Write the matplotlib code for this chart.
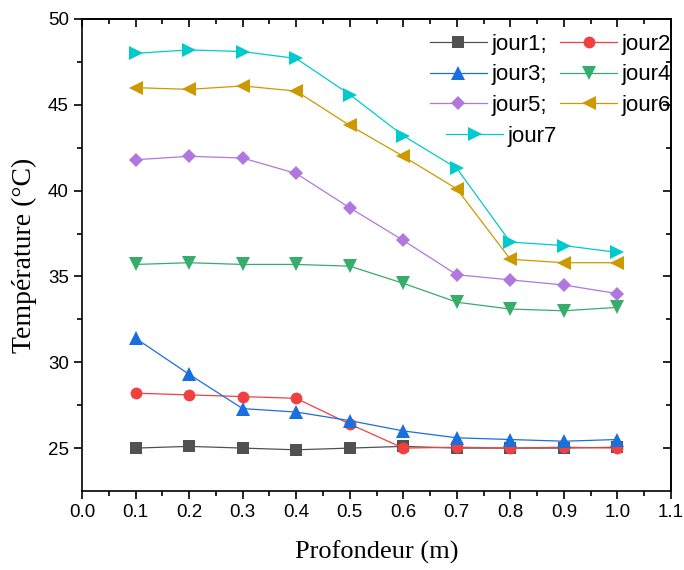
import matplotlib
matplotlib.use("Agg")
import matplotlib.pyplot as plt

depth = [0.1, 0.2, 0.3, 0.4, 0.5, 0.6, 0.7, 0.8, 0.9, 1.0]
jour1 = [25.0, 25.1, 25.0, 24.9, 25.0, 25.1, 25.0, 25.0, 25.0, 25.05]
jour2 = [28.2, 28.1, 28.0, 27.9, 26.4, 25.0, 25.05, 25.0, 25.05, 25.0]
jour3 = [31.4, 29.3, 27.3, 27.1, 26.6, 26.0, 25.6, 25.5, 25.4, 25.5]
jour4 = [35.7, 35.8, 35.7, 35.7, 35.6, 34.6, 33.5, 33.1, 33.0, 33.2]
jour5 = [41.8, 42.0, 41.9, 41.0, 39.0, 37.1, 35.1, 34.8, 34.5, 34.0]
jour6 = [46.0, 45.9, 46.1, 45.8, 43.8, 42.0, 40.1, 36.0, 35.8, 35.8]
jour7 = [48.0, 48.2, 48.1, 47.7, 45.6, 43.2, 41.3, 37.0, 36.8, 36.4]

series = [jour1, jour2, jour3, jour4, jour5, jour6, jour7]
labels = ["jour1;", "jour2", "jour3;", "jour4", "jour5;", "jour6", "jour7"]
colors = ["#515151", "#F14040", "#1A6FDF", "#37AD6B", "#B177DE", "#CC9900", "#00CBCC"]
markers = ["s", "o", "^", "v", "D", "<", ">"]
msizes = [8, 8.5, 9.5, 9.5, 7.5, 9.5, 9.5]

fig = plt.figure(figsize=(6.84, 5.70), dpi=100)
ax = fig.add_axes([82/684, 1-491/570, (671-82)/684, (491-19)/570])

handles = []
for y, lab, c, m, ms in zip(series, labels, colors, markers, msizes):
    h, = ax.plot(depth, y, color=c, marker=m, markersize=ms, linewidth=0.9,
                 markeredgewidth=0, label=lab)
    handles.append(h)

xmaj = [i/10 for i in range(12)]
xmin = [i/20 for i in range(23)]
ymaj = [25, 30, 35, 40, 45, 50]
ymin = [25, 27.5, 30, 32.5, 35, 37.5, 40, 42.5, 45, 47.5, 50]

ax.set_xlim(0.0, 1.1)
ax.set_ylim(22.5, 50)
ax.set_xticks(xmaj)
ax.set_xticklabels([f"{v:.1f}" for v in xmaj])
ax.set_xticks(xmin, minor=True)
ax.set_yticks(ymaj)
ax.set_yticks(ymin, minor=True)

tickfont = "Liberation Sans"
for lbl in ax.get_xticklabels() + ax.get_yticklabels():
    lbl.set_fontfamily(tickfont)
    lbl.set_fontsize(13.5)
ax.tick_params(which="both", direction="out", width=1.2, top=False, right=False)
ax.tick_params(which="major", length=6)
ax.tick_params(which="minor", length=3.5)

axt = ax.secondary_xaxis("top")
axt.set_xticks(xmaj)
axt.set_xticks(xmin, minor=True)
axt.tick_params(which="both", direction="in", labeltop=False, width=1.2)
axt.tick_params(which="major", length=6)
axt.tick_params(which="minor", length=3.5)
axr = ax.secondary_yaxis("right")
axr.set_yticks(ymaj)
axr.set_yticks(ymin, minor=True)
axr.tick_params(which="both", direction="in", labelright=False, width=1.2)
axr.tick_params(which="major", length=6)
axr.tick_params(which="minor", length=3.5)
for s in ax.spines.values():
    s.set_linewidth(1.2)
axt.spines["top"].set_linewidth(1.2)
axr.spines["right"].set_linewidth(1.2)

ax.set_xlabel("Profondeur (m)", fontfamily="Liberation Serif", fontsize=19, labelpad=14)
ax.set_ylabel("Température (°C)", fontfamily="Liberation Serif", fontsize=20, labelpad=8)

order = [0, 2, 4, 1, 3, 5]
leg1 = ax.legend([handles[i] for i in order], [labels[i] for i in order], ncol=2,
                 loc="upper right", bbox_to_anchor=(1.0, 1 - (34-19)/472),
                 frameon=False, borderpad=0, borderaxespad=0,
                 prop={"family": "Liberation Sans", "size": 16},
                 handlelength=2.57, handletextpad=0.2, columnspacing=0.6,
                 labelspacing=0.42)
ax.add_artist(leg1)
leg2 = ax.legend([handles[6]], [labels[6]], loc="upper left",
                 bbox_to_anchor=((446-82)/589, 1 - (126-19)/472),
                 frameon=False, borderpad=0, borderaxespad=0,
                 prop={"family": "Liberation Sans", "size": 16},
                 handlelength=2.57, handletextpad=0.2)

fig.savefig("out.png", dpi=100)
